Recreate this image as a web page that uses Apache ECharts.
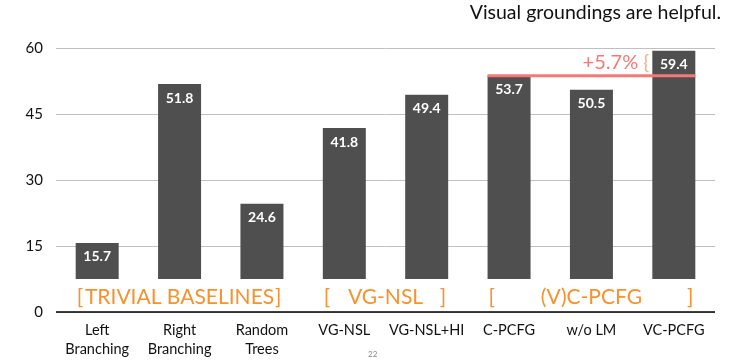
<!DOCTYPE html>
<html><head><meta charset="utf-8">
<script src="https://cdn.jsdelivr.net/npm/echarts@6/dist/echarts.min.js"></script>
<style>html,body{margin:0;padding:0;background:#fff}#c{width:747px;height:362px}</style>
</head><body><div id="c"></div>
<script>
const categories = ['Left\nBranching','Right\nBranching','Random\nTrees','VG-NSL','VG-NSL+HI','C-PCFG','w/o LM','VC-PCFG'];
const values = [15.7, 51.8, 24.6, 41.8, 49.4, 53.7, 50.5, 59.4];
const yTicks = [0, 15, 30, 45, 60];
const groups = [
  {text:'TRIVIAL BASELINES', from:0, to:2},
  {text:'VG-NSL', from:3, to:4},
  {text:'(V)C-PCFG', from:5, to:7}
];
const refValue = 53.7;
const gainText = '+5.7%';
const font = 'Lato, "Open Sans", sans-serif';

const chart = echarts.init(document.getElementById('c'));
const option = {
  animation:false,
  grid:{left:56,right:32,top:48,bottom:50},
  xAxis:{type:'category',data:categories,
    axisLine:{show:false},axisTick:{show:false},
    axisLabel:{color:'#111',fontSize:14.5,fontFamily:font,lineHeight:19,margin:9,interval:0}},
  yAxis:{type:'value',min:yTicks[0],max:yTicks[yTicks.length-1],interval:15,
    axisLine:{show:false},axisTick:{show:false},
    splitLine:{lineStyle:{color:'#c0c0c0',width:1}},
    axisLabel:{color:'#111',fontSize:15,fontFamily:font,margin:13}},
  series:[{type:'bar',data:values,barWidth:43,
    itemStyle:{color:'#4f4f4f'},
    label:{show:true,position:'insideTop',color:'#fff',fontWeight:'bold',fontSize:14,fontFamily:font,distance:7}}],
  graphic:[]
};
chart.setOption(option);

const half = 21.5;
const gfx = [];
const p0 = chart.convertToPixel({seriesIndex:0},[0,0]);
const pCover = chart.convertToPixel({seriesIndex:0},[0,7.5]);
const xL = chart.convertToPixel({xAxisIndex:0},0)-half-2;
const xR = chart.convertToPixel({xAxisIndex:0},categories.length-1)+half+2;
gfx.push({type:'rect',shape:{x:xL,y:pCover[1],width:xR-xL,height:p0[1]-pCover[1]},style:{fill:'#fff'},z:40});
const gx0 = chart.convertToPixel({xAxisIndex:0},0)-41.2;
const gx1 = chart.convertToPixel({xAxisIndex:0},categories.length-1)+41.2;
gfx.push({type:'rect',shape:{x:gx0,y:p0[1]-0.75,width:gx1-gx0,height:1.5},style:{fill:'#000'},z:200});
const orange = {fill:'#F7922E',fontSize:21,fontFamily:font,verticalAlign:'middle'};
const ty = (pCover[1]+p0[1])/2+2;
groups.forEach(g=>{
  const a = chart.convertToPixel({xAxisIndex:0},g.from)-half;
  const b = chart.convertToPixel({xAxisIndex:0},g.to)+half;
  gfx.push({type:'text',x:a+1,y:ty,z:41,style:Object.assign({text:'[',align:'left'},orange)});
  gfx.push({type:'text',x:(a+b)/2,y:ty,z:41,style:Object.assign({text:g.text,align:'center'},orange)});
  gfx.push({type:'text',x:b-2,y:ty,z:41,style:Object.assign({text:']',align:'right'},orange)});
});
const yRef = chart.convertToPixel({yAxisIndex:0},refValue);
const la = chart.convertToPixel({xAxisIndex:0},5)-half;
const lb = chart.convertToPixel({xAxisIndex:0},7)+half;
gfx.push({type:'line',shape:{x1:la,y1:yRef,x2:lb,y2:yRef},style:{stroke:'#F47A78',lineWidth:3},z:102});
const xv = chart.convertToPixel({xAxisIndex:0},7)-half;
gfx.push({type:'text',x:xv-3,y:yRef-13,z:102,
  style:{text:'{g|'+gainText+' }{b|{}',rich:{g:{fill:'#F47A78',fontSize:20,fontFamily:font},b:{fill:'#F9B08A',fontSize:20,fontFamily:font}},align:'right',verticalAlign:'middle'}});
gfx.push({type:'text',right:26,top:3,z:102,style:{text:'Visual groundings are helpful.',fill:'#111',fontSize:19.5,fontFamily:font}});
gfx.push({type:'text',left:368,top:350,z:102,style:{text:'22',fill:'#888',fontSize:8,fontFamily:font}});
chart.setOption({graphic:gfx});
</script></body></html>
